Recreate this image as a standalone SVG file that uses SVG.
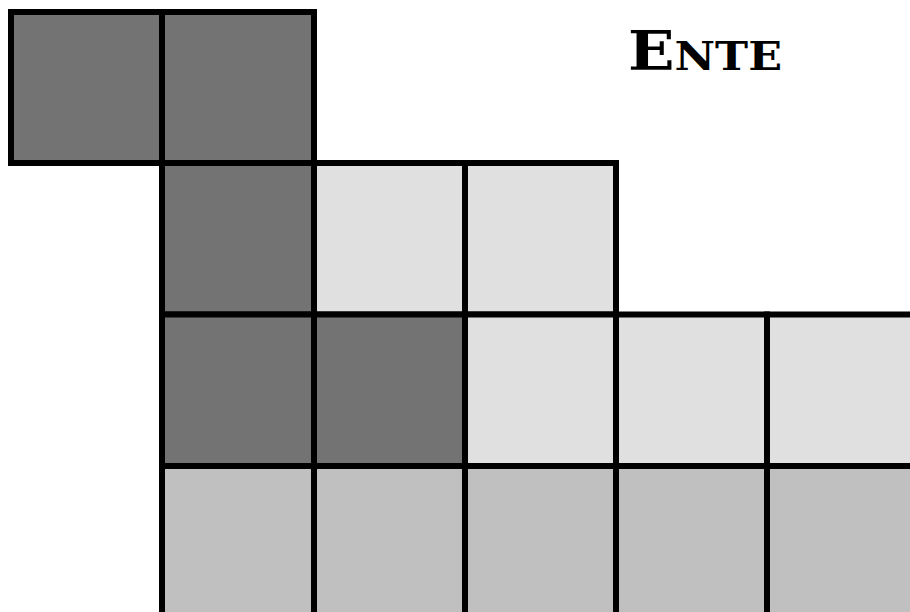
<svg xmlns="http://www.w3.org/2000/svg" width="910" height="612" viewBox="0 0 910 612">
<style>
.c{stroke:#000;stroke-width:6}
.d{fill:#737373}
.l{fill:#e0e0e0}
.m{fill:#c0c0c0}
.t{font-family:"DejaVu Serif","Liberation Serif",serif;font-weight:bold;fill:#000}
</style>
<rect width="910" height="612" fill="#fff"/>
<g id="r0c0"><rect class="c d" x="11" y="12" width="151" height="151"/></g>
<g id="r0c1"><rect class="c d" x="162" y="12" width="152" height="151"/></g>
<g id="r1c1"><rect class="c d" x="162" y="163" width="152" height="151.5"/></g>
<g id="r1c2"><rect class="c l" x="314" y="163" width="151" height="151.5"/></g>
<g id="r1c3"><rect class="c l" x="465" y="163" width="151" height="151.5"/></g>
<g id="r2c1"><rect class="c d" x="162" y="314.5" width="152" height="151.5"/></g>
<g id="r2c2"><rect class="c d" x="314" y="314.5" width="151" height="151.5"/></g>
<g id="r2c3"><rect class="c l" x="465" y="314.5" width="151" height="151.5"/></g>
<g id="r2c4"><rect class="c l" x="616" y="314.5" width="151" height="151.5"/></g>
<g id="r2c5"><rect class="c l" x="767" y="314.5" width="160" height="151.5"/></g>
<g id="r3c1"><rect class="c m" x="162" y="466" width="152" height="160"/></g>
<g id="r3c2"><rect class="c m" x="314" y="466" width="151" height="160"/></g>
<g id="r3c3"><rect class="c m" x="465" y="466" width="151" height="160"/></g>
<g id="r3c4"><rect class="c m" x="616" y="466" width="151" height="160"/></g>
<g id="r3c5"><rect class="c m" x="767" y="466" width="160" height="160"/></g>
<g id="connectors"></g>
<g id="title"><text class="t" x="628" y="70" textLength="154" lengthAdjust="spacingAndGlyphs"><tspan font-size="55">E</tspan><tspan font-size="40">NTE</tspan></text></g>
</svg>
